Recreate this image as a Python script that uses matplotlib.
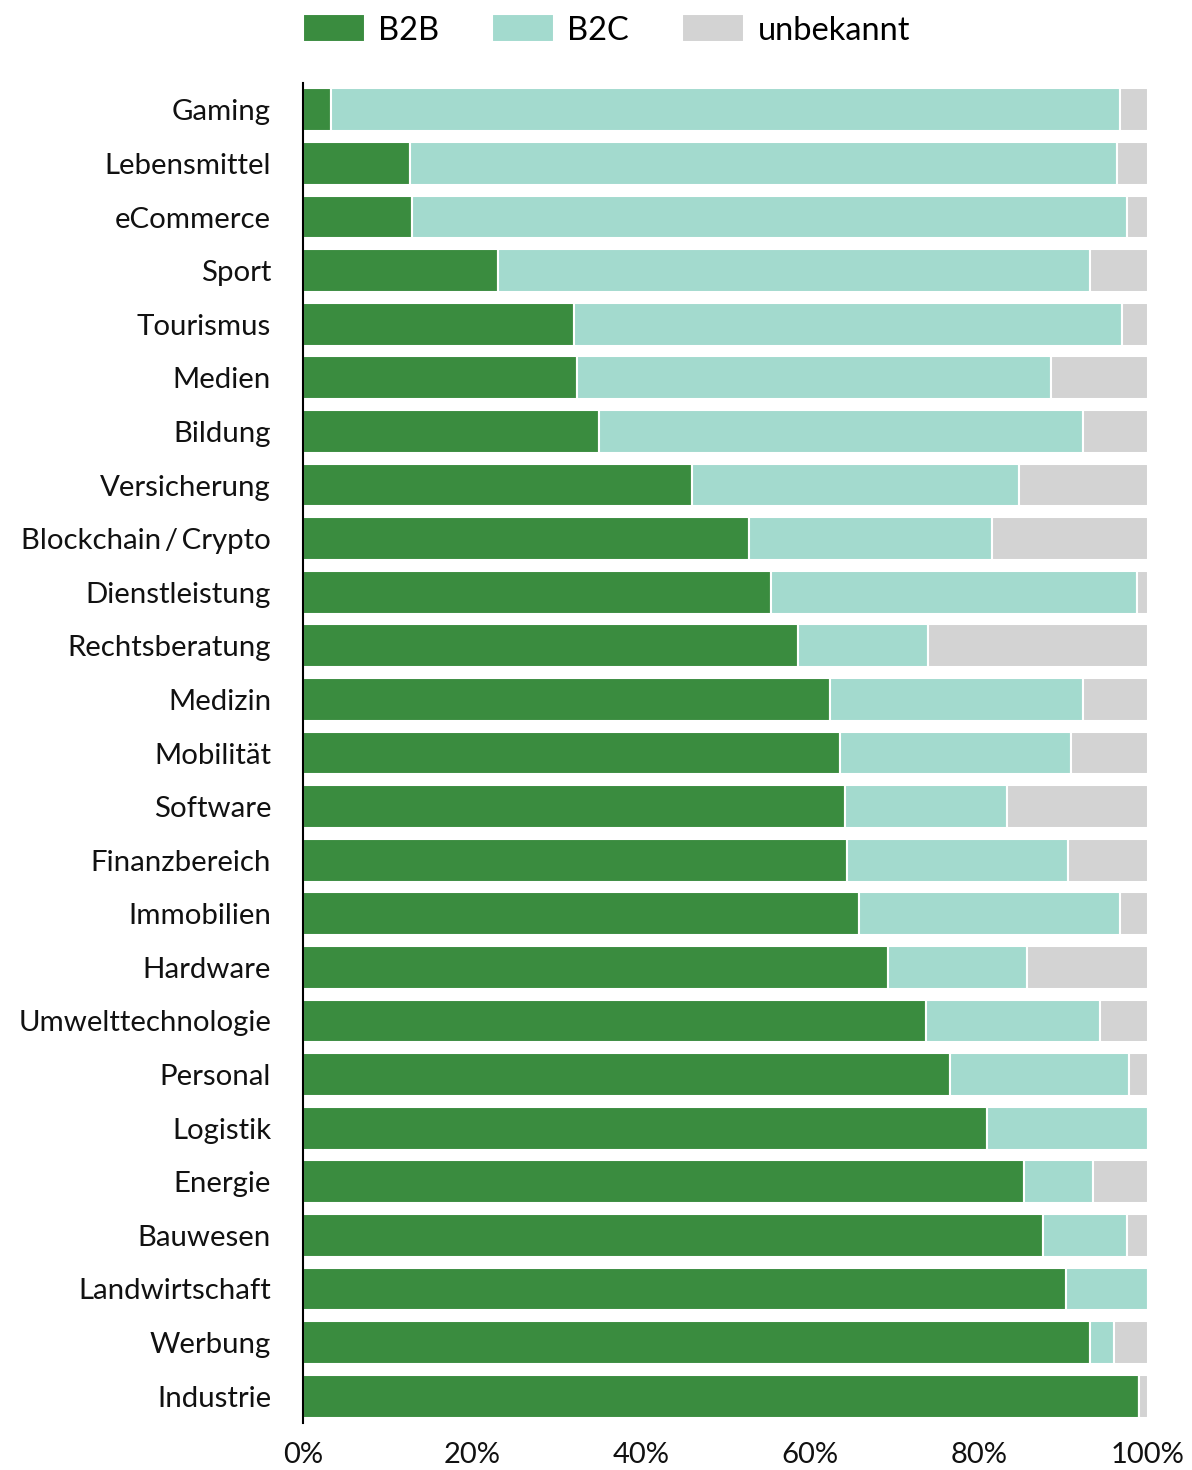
import numpy as np
import matplotlib.pyplot as plt
from matplotlib.ticker import PercentFormatter

plt.rcParams['font.family'] = ['Lato', 'DejaVu Sans']

branchen = ["Gaming", "Lebensmittel", "eCommerce", "Sport", "Tourismus", "Medien",
            "Bildung", "Versicherung", "Blockchain\u2009/\u2009Crypto", "Dienstleistung",
            "Rechtsberatung", "Medizin", "Mobilität", "Software", "Finanzbereich",
            "Immobilien", "Hardware", "Umwelttechnologie", "Personal", "Logistik",
            "Energie", "Bauwesen", "Landwirtschaft", "Werbung", "Industrie"]

# Anteile in Prozent
b2b = [3.3, 12.7, 12.9, 23.1, 32.1, 32.4, 35.0, 46.0, 52.8, 55.4,
       58.6, 62.4, 63.6, 64.1, 64.4, 65.8, 69.2, 73.7, 76.6, 80.9,
       85.3, 87.6, 90.3, 93.1, 98.9]
b2c = [93.4, 83.7, 84.6, 70.0, 64.8, 56.1, 57.3, 38.7, 28.7, 43.3,
       15.4, 29.9, 27.3, 19.2, 26.1, 30.9, 16.5, 20.6, 21.2, 19.1,
       8.2, 9.9, 9.7, 2.9, 0.0]
unbekannt = [100 - a - b for a, b in zip(b2b, b2c)]

fig = plt.figure(figsize=(11.92, 14.7), dpi=100)
ax = fig.add_axes([0.2542, 0.032, 0.7088, 0.9115])

y = np.arange(len(branchen))
h = 0.8
ax.barh(y, b2b, height=h, color="#3a8c3f", edgecolor="white", linewidth=1.5, label="B2B")
ax.barh(y, b2c, left=b2b, height=h, color="#a3dace", edgecolor="white", linewidth=1.5, label="B2C")
ax.barh(y, unbekannt, left=np.add(b2b, b2c), height=h, color="#d3d3d3",
        edgecolor="white", linewidth=1.5, label="unbekannt")

ax.set_ylim(len(branchen) - 0.5, -0.5)
ax.set_xlim(0, 100)
ax.set_yticks(y)
ax.set_yticklabels(branchen)
ax.set_xticks([0, 20, 40, 60, 80, 100])
ax.xaxis.set_major_formatter(PercentFormatter(decimals=0))

for s in ["top", "right", "bottom"]:
    ax.spines[s].set_visible(False)
ax.spines["left"].set_linewidth(1.5)
ax.tick_params(axis="y", length=0, pad=23, labelsize=21.2, colors="#111111")
ax.tick_params(axis="x", length=0, pad=14, labelsize=21, colors="#111111")

fig.legend(*ax.get_legend_handles_labels(), loc="center left",
           bbox_to_anchor=(303 / 1192, 1 - 30 / 1470), ncol=3, frameon=False,
           fontsize=23.5, handlelength=1.9, handleheight=0.92, handletextpad=0.4,
           columnspacing=1.63, borderpad=0, borderaxespad=0)

fig.savefig("out.png", dpi=100)
